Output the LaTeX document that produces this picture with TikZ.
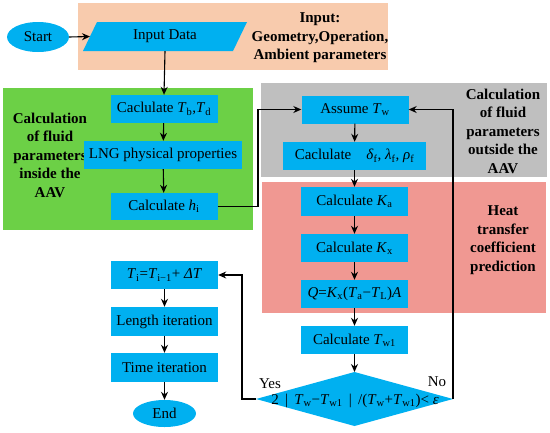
\documentclass[tikz,border=0pt]{standalone}
\usepackage{fontspec}
\setmainfont{Liberation Serif}
\usetikzlibrary{arrows.meta,shapes.geometric}
\definecolor{boxblue}{RGB}{0,176,240}
\definecolor{regorange}{RGB}{248,203,173}
\definecolor{reggreen}{RGB}{108,208,70}
\definecolor{reggray}{RGB}{191,191,191}
\definecolor{regpink}{RGB}{240,152,146}
\newcommand\vsub[2]{\textit{#1}\textsubscript{#2}}
\begin{document}
\begin{tikzpicture}[x=1pt,y=-1pt,
  font=\fontsize{15}{18.5}\selectfont,
  proc/.style={fill=boxblue, inner sep=0pt, minimum width=107pt, minimum height=28pt},
  term/.style={ellipse, fill=boxblue, inner sep=0pt},
  note/.style={font=\bfseries\fontsize{15}{18.5}\selectfont, align=center},
  arr/.style={-{Stealth[length=8pt,width=7pt]}, line width=1.1pt, black},
  ln/.style={line width=1.1pt, black}]
\useasboundingbox (0,0) rectangle (550,432);
% regions
\fill[regorange] (78,3) rectangle (388,70);
\fill[reggreen] (3,88) rectangle (253,230);
\fill[reggray] (261,83) rectangle (547,177);
\fill[regpink] (262,182) rectangle (546,313);
\node[note] (nin) at (320,38) {Input:\\Geometry,Operation,\\Ambient parameters};
\node[note] (ngreen) at (50,155) {Calculation\\of fluid\\parameters\\inside the\\AAV};
\node[note] (ngray) at (503,131) {Calculation\\of fluid\\parameters\\outside the\\AAV};
\node[note] (npink) at (503,240) {Heat\\transfer\\coefficient\\prediction};
% start and input
\node[term, minimum width=62pt, minimum height=30pt] (start) at (38,37) {Start};
\fill[boxblue] (83,51) -- (97,22) -- (247,22) -- (233,51) -- cycle;
\node[inner sep=0pt, minimum width=150pt, minimum height=29pt] (input) at (165,36.5) {Input Data};
\coordinate (inL) at (90,36.5);
% inside AAV
\node[proc] (tb) at (164,109) {Caclulate \vsub{T}{b},\vsub{T}{d}};
\node[proc, minimum width=158pt] (lng) at (163,155) {LNG physical properties};
\node[proc, minimum height=27pt] (hi) at (164,206.5) {Calculate \vsub{h}{i}};
% outside AAV
\node[proc, minimum height=28pt] (assume) at (355,109.5) {Assume \vsub{T}{w}};
\node[proc, minimum width=143pt] (delta) at (354.5,156) {Caclulate\quad \vsub{δ}{f}, \vsub{λ}{f}, \vsub{ρ}{f}};
\node[proc, minimum height=29pt] (ka) at (354.5,201.5) {Calculate \vsub{K}{a}};
\node[proc] (kx) at (354.5,248) {Calculate \vsub{K}{x}};
\node[proc] (q) at (354.5,294) {\textit{Q}=\vsub{K}{x}(\vsub{T}{a}−\vsub{T}{L})\textit{A}};
\node[proc] (tw1) at (354.5,340) {Calculate \vsub{T}{w1}};
% diamond
\coordinate (dT) at (354.5,372);
\coordinate (dB) at (354.5,426);
\coordinate (dL) at (256,399);
\coordinate (dR) at (453,399);
\fill[boxblue] (dT) -- (dR) -- (dB) -- (dL) -- cycle;
\node[inner sep=0pt] (dtext) at (355,401) {2\ \,|\ \,\vsub{T}{w}−\vsub{T}{w1}\ \,|\ \,/(\vsub{T}{w}+\vsub{T}{w1})<\ \textit{ε}};
\node[inner sep=1pt] (yes) at (270,384) {Yes};
\node[inner sep=1pt] (no) at (437,382) {No};
% left column
\node[proc] (ti) at (164.5,275) {\vsub{T}{i}=\vsub{T}{i−1}+ \textit{Δ}\textit{T}};
\node[proc, minimum height=29pt] (len) at (164.5,321.5) {Length iteration};
\node[proc, minimum height=29pt] (time) at (164.5,367.5) {Time iteration};
\node[term, minimum width=63pt, minimum height=27pt] (end) at (164.5,413.5) {End};
\coordinate (hx) at (258,0);
\coordinate (yx) at (242,0);
% connectors
\draw[arr] (start.east) -- (inL);
\draw[arr] (input.south) -- (tb.north);
\draw[arr] (tb) -- (lng);
\draw[arr] (lng) -- (hi);
\draw[arr] (hi.east) -- (hi.east -| hx) |- (assume.west);
\draw[arr] (assume) -- (delta);
\draw[arr] (delta) -- (ka);
\draw[arr] (ka) -- (kx);
\draw[arr] (kx) -- (q);
\draw[arr] (q) -- (tw1);
\draw[arr] (tw1.south) -- (dT);
\draw[arr] (dR) |- (assume.east);
\draw[arr] (dL) -- (dL -| yx) |- (ti.east);
\draw[arr] (ti) -- (len);
\draw[arr] (len) -- (time);
\draw[arr] (time) -- (end);
\end{tikzpicture}
\end{document}
